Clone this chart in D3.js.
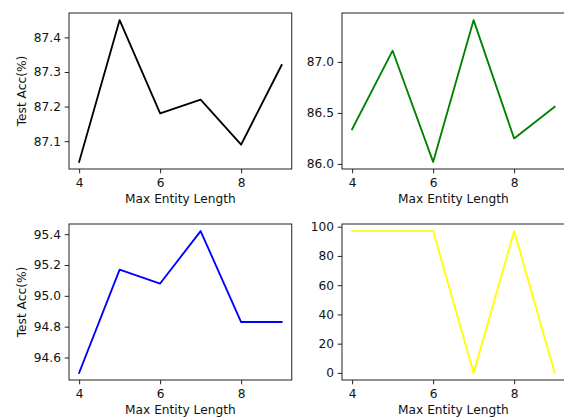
<!DOCTYPE html>
<html><head><meta charset="utf-8">
<script src="https://cdn.jsdelivr.net/npm/d3@7"></script>
<style>body{margin:0;background:#fff}svg{display:block}</style>
</head><body><svg id="chart" width="564" height="418"></svg>
<script>
// ---- data ----
const maxEntityLength = [4, 5, 6, 7, 8, 9];
const accBlack  = [87.04, 87.45, 87.18, 87.22, 87.09, 87.32];
const accGreen  = [86.34, 87.11, 86.02, 87.41, 86.25, 86.56];
const accBlue   = [94.50, 95.17, 95.08, 95.42, 94.83, 94.83];
const accYellow = [97, 97, 97, 0, 97, 0];
const xTicks = [4, 6, 8];
const yTicksBlack  = [87.1, 87.2, 87.3, 87.4];
const yTicksGreen  = [86.0, 86.5, 87.0];
const yTicksBlue   = [94.6, 94.8, 95.0, 95.2, 95.4];
const yTicksYellow = [0, 20, 40, 60, 80, 100];
const xLabel = "Max Entity Length";
const yLabel = "Test Acc(%)";

// ---- layout ----
const W = 222.75, H = 156;
const FONT = "DejaVu Sans, sans-serif", FS = 12.2;
const panels = [
  {vals: accBlack,  color: "#000000", ticks: yTicksBlack,  fmt: d3.format(".1f"), ylab: true,  x0: 69,  y0: 13},
  {vals: accGreen,  color: "#008000", ticks: yTicksGreen,  fmt: d3.format(".1f"), ylab: false, x0: 342, y0: 13},
  {vals: accBlue,   color: "#0000ff", ticks: yTicksBlue,   fmt: d3.format(".1f"), ylab: true,  x0: 69,  y0: 224},
  {vals: accYellow, color: "#ffff00", ticks: yTicksYellow, fmt: d3.format("d"),   ylab: false, x0: 342, y0: 224}
];

const svg = d3.select("#chart");
const xmin = d3.min(maxEntityLength), xmax = d3.max(maxEntityLength);
const xpad = (xmax - xmin) * 0.05;

panels.forEach(p => {
  const g = svg.append("g").attr("transform", `translate(${p.x0},${p.y0})`);
  const x = d3.scaleLinear().domain([xmin - xpad, xmax + xpad]).range([0, W]);
  const ymn = d3.min(p.vals), ymx = d3.max(p.vals), yp = (ymx - ymn) * 0.05;
  const y = d3.scaleLinear().domain([ymn - yp, ymx + yp]).range([H, 0]);

  const line = d3.line().x((d, i) => x(maxEntityLength[i])).y(d => y(d));
  g.append("path").datum(p.vals)
    .attr("d", line).attr("fill", "none")
    .attr("stroke", p.color).attr("stroke-width", 1.85)
    .attr("stroke-linejoin", "round").attr("stroke-linecap", "square");

  // frame
  g.append("rect").attr("x", 0).attr("y", 0).attr("width", W).attr("height", H)
    .attr("fill", "none").attr("stroke", "#222").attr("stroke-width", 1);

  const xa = g.append("g").attr("transform", `translate(0,${H})`)
    .call(d3.axisBottom(x).tickValues(xTicks).tickFormat(d3.format("d")).tickSize(4.3).tickPadding(5.3));
  const ya = g.append("g")
    .call(d3.axisLeft(y).tickValues(p.ticks).tickFormat(p.fmt).tickSize(4.3).tickPadding(3.7));
  [xa, ya].forEach(a => {
    a.select(".domain").remove();
    a.selectAll("line").attr("stroke", "#222").attr("stroke-width", 1);
    a.selectAll("text").attr("fill", "#111").style("font-family", FONT).style("font-size", FS + "px");
  });

  g.append("text").attr("x", W / 2).attr("y", H + 34.3)
    .attr("text-anchor", "middle").attr("fill", "#111")
    .style("font-family", FONT).style("font-size", FS + "px").text(xLabel);

  if (p.ylab) {
    g.append("text").attr("transform", `translate(${25.5 - p.x0},${H / 2}) rotate(-90)`)
      .attr("text-anchor", "middle").attr("fill", "#111")
      .style("font-family", FONT).style("font-size", FS + "px").text(yLabel);
  }
});
</script></body></html>
